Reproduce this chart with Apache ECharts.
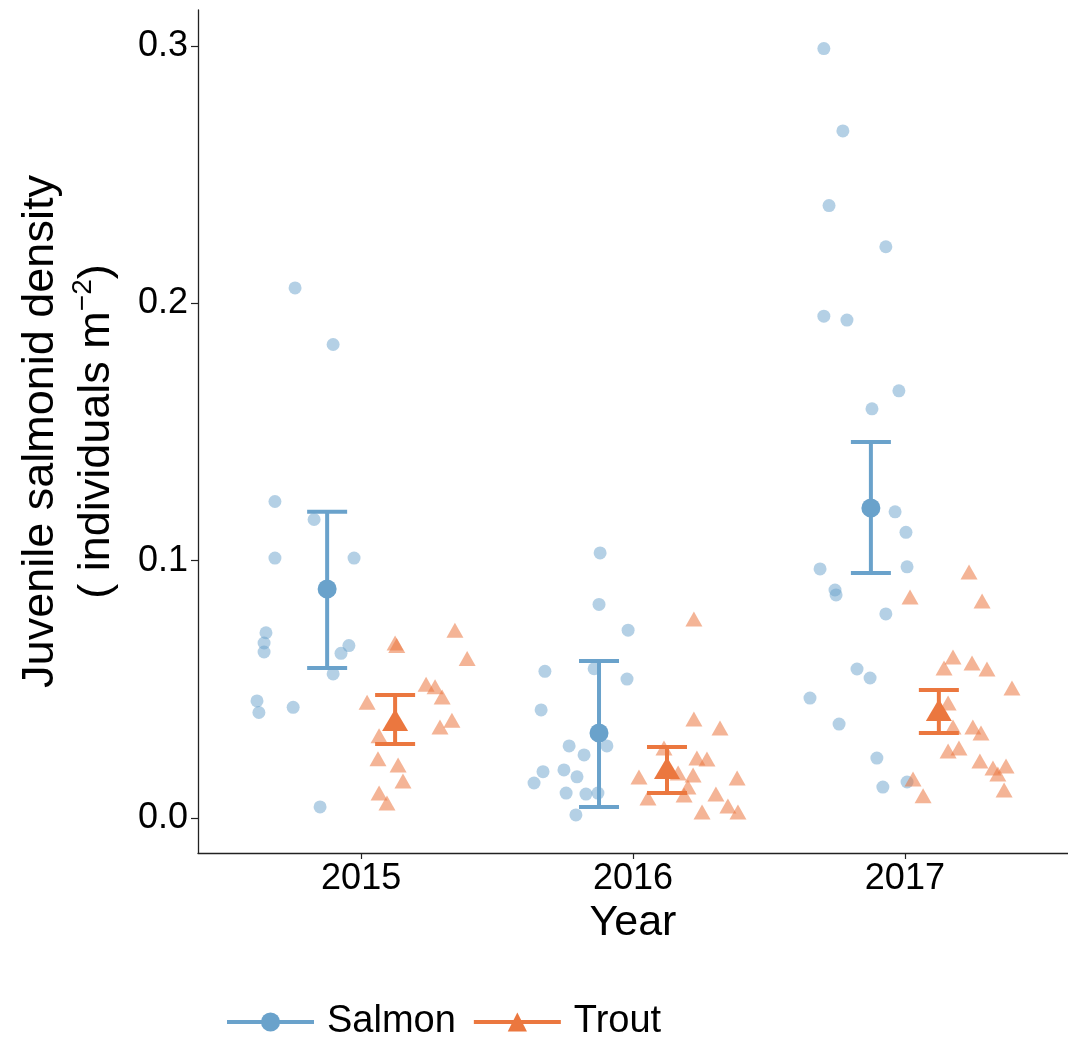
<!DOCTYPE html>
<html>
<head>
<meta charset="utf-8">
<script src="https://cdn.jsdelivr.net/npm/echarts@6/dist/echarts.min.js"></script>
<style>
html,body{margin:0;padding:0;background:#fff;}
#chart{width:1068px;height:1041px;}
</style>
</head>
<body>
<div id="chart"></div>
<script>
// ---- data ----
const years = [2015, 2016, 2017];
const dodge = 0.125;

// jittered observations: [x offset from year, density]
const salmon2015 = [[-0.243,0.206],[-0.103,0.184],[-0.317,0.123],[-0.173,0.116],[-0.317,0.101],[-0.026,0.101],
  [-0.350,0.072],[-0.357,0.068],[-0.357,0.0645],[-0.045,0.067],[-0.074,0.064],[-0.103,0.056],
  [-0.383,0.0455],[-0.376,0.041],[-0.250,0.043],[-0.151,0.0043]];
const salmon2016 = [[-0.121,0.103],[-0.125,0.083],[-0.018,0.073],[-0.143,0.058],[-0.324,0.057],[-0.022,0.054],
  [-0.338,0.042],[-0.235,0.028],[-0.096,0.028],[-0.180,0.0245],[-0.331,0.018],[-0.254,0.0187],
  [-0.206,0.016],[-0.364,0.0136],[-0.246,0.0097],[-0.173,0.0093],[-0.129,0.0097],[-0.210,0.0012]];
const salmon2017 = [[-0.298,0.299],[-0.228,0.267],[-0.279,0.238],[-0.070,0.222],[-0.298,0.195],[-0.213,0.1935],
  [-0.022,0.166],[-0.121,0.159],[-0.036,0.119],[0.004,0.111],[0.008,0.0976],[-0.312,0.0968],
  [-0.257,0.0886],[-0.253,0.0867],[-0.070,0.0793],[-0.176,0.0579],[-0.128,0.0544],[-0.349,0.0466],
  [-0.242,0.0365],[-0.103,0.0233],[0.008,0.014],[-0.081,0.012]];

const trout2015 = [[0.125,0.068],[0.131,0.067],[0.345,0.073],[0.390,0.062],[0.239,0.052],[0.272,0.051],
  [0.298,0.047],[0.022,0.045],[0.334,0.038],[0.290,0.0354],[0.066,0.032],[0.062,0.023],
  [0.136,0.0206],[0.154,0.0144],[0.066,0.0097],[0.095,0.0058]];
const trout2016 = [[0.224,0.0773],[0.224,0.0385],[0.320,0.035],[0.114,0.0272],[0.235,0.0233],[0.272,0.0229],
  [0.022,0.0159],[0.221,0.0167],[0.383,0.0155],[0.166,0.0175],[0.202,0.012],[0.305,0.0093],
  [0.055,0.0078],[0.188,0.0089],[0.254,0.0023],[0.349,0.0047],[0.386,0.0023]];
const trout2017 = [[0.236,0.0956],[0.284,0.0843],[0.019,0.0859],[0.177,0.0626],[0.144,0.0583],[0.247,0.0602],
  [0.302,0.0579],[0.394,0.0505],[0.159,0.0447],[0.177,0.0354],[0.250,0.0354],[0.280,0.033],
  [0.199,0.0272],[0.159,0.026],[0.276,0.0222],[0.324,0.0194],[0.372,0.0202],[0.342,0.0171],
  [0.365,0.0109],[0.030,0.0152],[0.067,0.0086]];

// means and intervals
const salmonMean = [0.089, 0.033, 0.1205];
const salmonLo   = [0.0583, 0.0043, 0.0952];
const salmonHi   = [0.119, 0.061, 0.1461];
const troutMean  = [0.0381, 0.0194, 0.0420];
const troutLo    = [0.0288, 0.0097, 0.0330];
const troutHi    = [0.0478, 0.0276, 0.0497];

const yTicks = [0, 0.1, 0.2, 0.3];

// ---- build ----
const FONT = 'Liberation Sans, Arial, sans-serif';
const SALMON = '#6AA2CB';
const TROUT = '#EB773F';

function jitter(groups, sign) {
  const out = [];
  groups.forEach((g, i) => g.forEach(p => out.push([years[i] + p[0], p[1]])));
  return out;
}
const salmonPts = jitter([salmon2015, salmon2016, salmon2017]);
const troutPts = jitter([trout2015, trout2016, trout2017]);
const salmonMeanData = years.map((y, i) => [y - dodge, salmonMean[i]]);
const troutMeanData = years.map((y, i) => [y + dodge, troutMean[i]]);
const salmonErr = years.map((y, i) => [y - dodge, salmonLo[i], salmonHi[i]]);
const troutErr = years.map((y, i) => [y + dodge, troutLo[i], troutHi[i]]);

function errRender(color) {
  return function (params, api) {
    const x = api.value(0);
    const pLo = api.coord([x, api.value(1)]);
    const pHi = api.coord([x, api.value(2)]);
    const hw = 20;
    const style = { stroke: color, lineWidth: 4, fill: null };
    return {
      type: 'group',
      children: [
        { type: 'line', shape: { x1: pLo[0], y1: pLo[1], x2: pHi[0], y2: pHi[1] }, style: style },
        { type: 'line', shape: { x1: pHi[0] - hw, y1: pHi[1], x2: pHi[0] + hw, y2: pHi[1] }, style: style },
        { type: 'line', shape: { x1: pLo[0] - hw, y1: pLo[1], x2: pLo[0] + hw, y2: pLo[1] }, style: style }
      ]
    };
  };
}

const chart = echarts.init(document.getElementById('chart'), null, { renderer: 'canvas' });
chart.setOption({
  animation: false,
  backgroundColor: '#fff',
  textStyle: { fontFamily: FONT, color: '#000' },
  grid: { left: 198, right: 0, top: 10, bottom: 188, containLabel: false, outerBoundsMode: 'none' },
  xAxis: {
    type: 'value', min: 2014.4, max: 2017.6,
    name: 'Year', nameLocation: 'middle', nameGap: 42,
    nameTextStyle: { fontSize: 43, color: '#000', fontFamily: FONT },
    axisLine: { show: true, onZero: false, lineStyle: { color: '#222', width: 1.3 } },
    axisTick: { show: true, length: 6, customValues: years, lineStyle: { color: '#222', width: 1.2 } },
    axisLabel: { customValues: years, fontSize: 36, color: '#000', margin: 8, fontFamily: FONT,
      formatter: v => String(Math.round(v)) },
    splitLine: { show: false }
  },
  yAxis: {
    type: 'value', min: -0.0136, max: 0.314,
    name: '{a|Juvenile salmonid density}\n{a|( individuals m}{s|\u22122}{a|)}',
    nameLocation: 'middle', nameRotate: 90, nameGap: 73,
    nameTextStyle: {
      fontSize: 45, lineHeight: 56, color: '#000', fontFamily: FONT,
      rich: {
        a: { fontSize: 45, lineHeight: 56, color: '#000', fontFamily: FONT },
        s: { fontSize: 28, lineHeight: 30, verticalAlign: 'top', color: '#000', fontFamily: FONT }
      }
    },
    axisLine: { show: true, onZero: false, lineStyle: { color: '#222', width: 1.3 } },
    axisTick: { show: true, length: 7, customValues: yTicks, lineStyle: { color: '#222', width: 1.2 } },
    axisLabel: { customValues: yTicks, fontSize: 36, color: '#000', margin: 10, fontFamily: FONT,
      formatter: v => v.toFixed(1) },
    splitLine: { show: false }
  },
  legend: {
    data: ['Salmon', 'Trout'],
    left: 220, top: 998,
    itemWidth: 87, itemHeight: 24, itemGap: 16,
    textStyle: { fontSize: 38, color: '#000', fontFamily: FONT, padding: [0, 0, 0, 8] },
    lineStyle: { width: 4, opacity: 1 },
    selectedMode: false
  },
  series: [
    {
      name: 'Salmon obs', type: 'scatter', data: salmonPts, symbol: 'circle', symbolSize: 13,
      itemStyle: { color: SALMON, opacity: 0.5 }, z: 2, silent: true
    },
    {
      name: 'Trout obs', type: 'scatter', data: troutPts, symbol: 'triangle', symbolSize: [17, 15],
      itemStyle: { color: TROUT, opacity: 0.55 }, z: 2, silent: true
    },
    {
      name: 'Salmon err', type: 'custom', data: salmonErr, encode: { x: 0, y: [1, 2] },
      renderItem: errRender(SALMON), z: 3, silent: true
    },
    {
      name: 'Trout err', type: 'custom', data: troutErr, encode: { x: 0, y: [1, 2] },
      renderItem: errRender(TROUT), z: 3, silent: true
    },
    {
      name: 'Salmon', type: 'line', data: salmonMeanData, symbol: 'circle', symbolSize: 19,
      showSymbol: true, itemStyle: { color: SALMON, opacity: 1 },
      lineStyle: { color: SALMON, width: 4, opacity: 0 }, z: 4, silent: true
    },
    {
      name: 'Trout', type: 'line', data: troutMeanData, symbol: 'triangle', symbolSize: [26, 22],
      showSymbol: true, itemStyle: { color: TROUT, opacity: 1 },
      lineStyle: { color: TROUT, width: 4, opacity: 0 }, z: 4, silent: true
    }
  ]
});
</script>
</body>
</html>
